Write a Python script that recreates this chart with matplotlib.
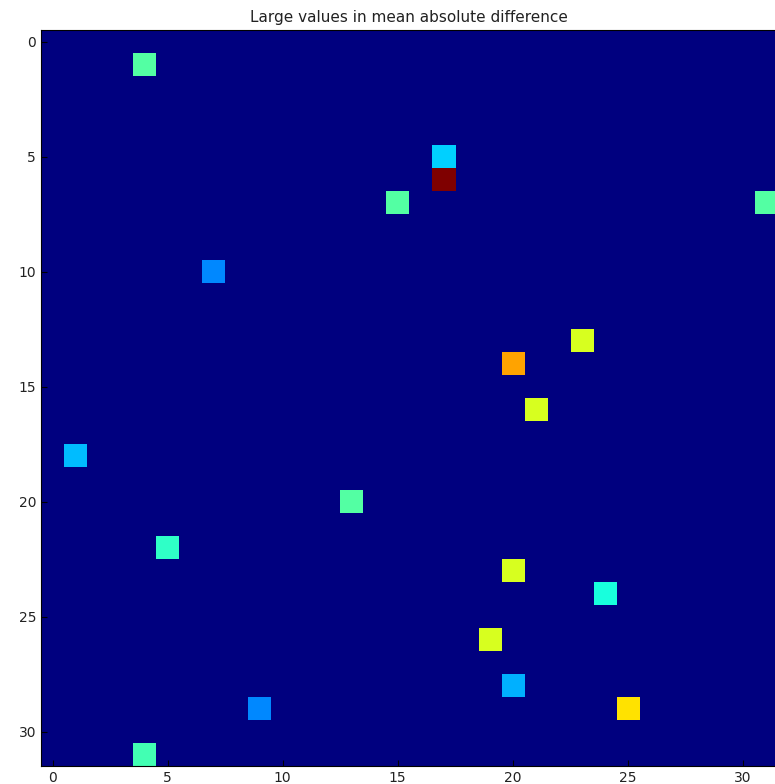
import numpy as np
import matplotlib
matplotlib.use('Agg')
import matplotlib.pyplot as plt

# grid size and the few large cells (row, col, value)
n = 32
rows = [1, 5, 6, 7, 7, 10, 13, 14, 16, 18, 20, 22, 23, 24, 26, 28, 29, 29, 31]
cols = [4, 17, 17, 15, 31, 7, 23, 20, 21, 1, 13, 5, 20, 24, 19, 20, 9, 25, 4]
vals = [0.45, 0.33, 1.0, 0.45, 0.45, 0.26, 0.61, 0.735, 0.61, 0.31,
        0.45, 0.41, 0.61, 0.38, 0.61, 0.30, 0.26, 0.67, 0.43]

grid = np.zeros((n, n))
grid[rows, cols] = vals

fig = plt.figure(figsize=(7.75, 7.84), dpi=100)
ax = fig.add_axes([41 / 775, 18 / 784, 736 / 775, 736 / 784])
ax.imshow(grid, cmap='jet', interpolation='nearest', vmin=0, vmax=1, aspect='auto')
ax.set_title('Large values in mean absolute difference', fontsize=11, color='#222222', pad=6)
ax.set_xticks(np.arange(0, n, 5))
ax.set_yticks(np.arange(0, n, 5))
ax.tick_params(direction='in', length=4, labelsize=10, labelcolor='#222222')
for s in ax.spines.values():
    s.set_linewidth(0.8)

fig.savefig('out.png', dpi=100)
